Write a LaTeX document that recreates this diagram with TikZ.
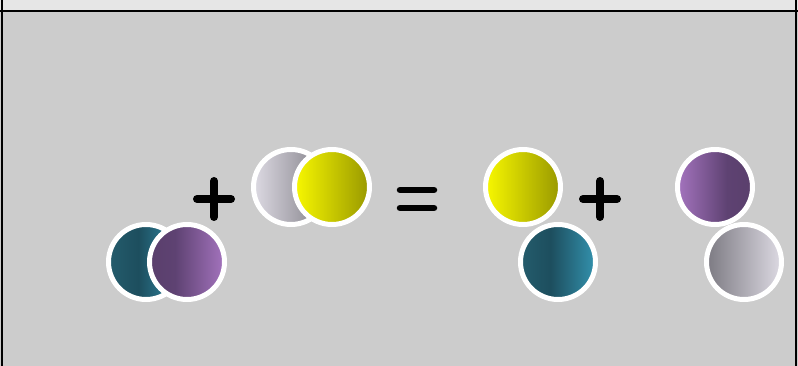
\documentclass[tikz,border=0pt]{standalone}
\usetikzlibrary{shadings}
\definecolor{tealL}{HTML}{245C6C}
\definecolor{tealM}{HTML}{1D4E5E}
\definecolor{tealR}{HTML}{3392AE}
\definecolor{purpD}{HTML}{5A3F6C}
\definecolor{purpD2}{HTML}{5E4272}
\definecolor{purpL}{HTML}{A474BE}
\definecolor{grayL}{HTML}{DDDAE3}
\definecolor{grayD}{HTML}{7C7A82}
\definecolor{yellL}{HTML}{F8F800}
\definecolor{yellD}{HTML}{989800}
\definecolor{bgmain}{HTML}{CCCCCC}
\definecolor{bgtop}{HTML}{E6E6E6}
\pgfdeclarehorizontalshading{tealsh}{100bp}{color(0bp)=(tealL); color(25bp)=(tealL); color(45bp)=(tealM); color(75bp)=(tealR); color(100bp)=(tealR)}
\pgfdeclarehorizontalshading{purpA}{100bp}{color(0bp)=(purpD); color(25bp)=(purpD); color(42bp)=(purpD2); color(75bp)=(purpL); color(100bp)=(purpL)}
\pgfdeclarehorizontalshading{purpB}{100bp}{color(0bp)=(purpL); color(25bp)=(purpL); color(58bp)=(purpD2); color(75bp)=(purpD); color(100bp)=(purpD)}
\pgfdeclarehorizontalshading{grayA}{100bp}{color(0bp)=(grayL); color(25bp)=(grayL); color(75bp)=(grayD); color(100bp)=(grayD)}
\pgfdeclarehorizontalshading{grayB}{100bp}{color(0bp)=(grayD); color(25bp)=(grayD); color(75bp)=(grayL); color(100bp)=(grayL)}
\pgfdeclarehorizontalshading{yellsh}{100bp}{color(0bp)=(yellL); color(25bp)=(yellL); color(75bp)=(yellD); color(100bp)=(yellD)}
\tikzset{
  ball/.style={circle, minimum size=75pt, inner sep=0pt, draw=white, line width=5pt},
  opbar/.style={line width=8pt, line cap=round},
  eqbar/.style={line width=6.5pt, line cap=round},
}
\begin{document}
\begin{tikzpicture}[x=1pt,y=-1pt]
\useasboundingbox (0,0) rectangle (798,366);
\fill[bgmain] (0,0) rectangle (798,366);
\fill[bgtop] (0,0) rectangle (798,11);
\draw[line width=2pt] (0,11) -- (798,11);
\draw[line width=2pt] (2,0) -- (2,366);
\draw[line width=2pt] (796,0) -- (796,366);
% left pair
\node[ball, shading=tealsh] (t1) at (146,262) {};
\node[ball, shading=purpA] (p1) at (187,262) {};
% plus 1
\coordinate (pl1) at (214,199);
\draw[opbar] ([xshift=-17pt]pl1) -- ([xshift=17pt]pl1);
\draw[opbar] ([yshift=-18pt]pl1) -- ([yshift=18pt]pl1);
% top pair
\node[ball, shading=grayA] (g1) at (291,187) {};
\node[ball, shading=yellsh] (y1) at (332,187) {};
% equals
\coordinate (eq) at (417,199);
\draw[eqbar] ([xshift=-17pt,yshift=-9pt]eq) -- ([xshift=17pt,yshift=-9pt]eq);
\draw[eqbar] ([xshift=-17pt,yshift=9pt]eq) -- ([xshift=17pt,yshift=9pt]eq);
% right side
\node[ball, shading=yellsh] (y2) at (523,187) {};
\node[ball, shading=tealsh] (t2) at (558,262) {};
\coordinate (pl2) at (600,199);
\draw[opbar] ([xshift=-17pt]pl2) -- ([xshift=17pt]pl2);
\draw[opbar] ([yshift=-18pt]pl2) -- ([yshift=18pt]pl2);
\node[ball, shading=purpB] (p2) at (715,187) {};
\node[ball, shading=grayB] (g2) at (744,262) {};
\end{tikzpicture}
\end{document}
